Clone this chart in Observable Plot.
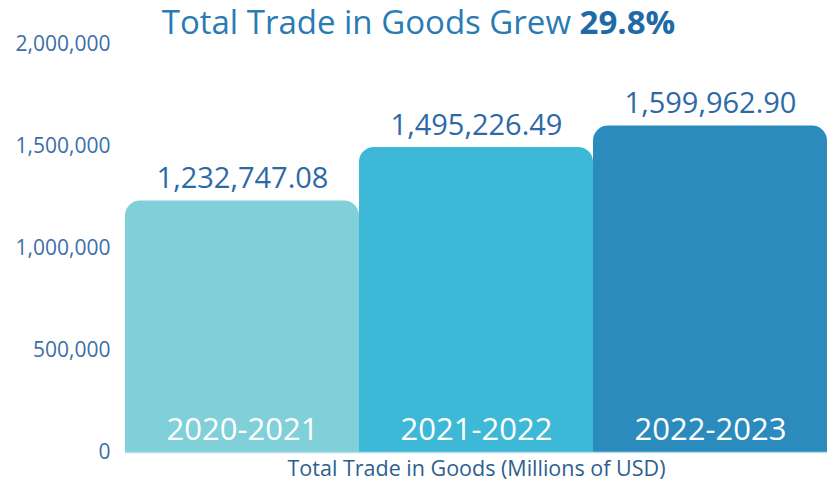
<!DOCTYPE html>
<html><head><meta charset="utf-8">
<script src="https://cdn.jsdelivr.net/npm/d3@7"></script>
<script src="https://cdn.jsdelivr.net/npm/@observablehq/plot@0.6"></script>
<style>
body{margin:0;background:#fff;font-family:"Open Sans",sans-serif;}
#wrap{position:relative;width:829px;height:487px;}
#title{position:absolute;left:0;top:-1px;width:829px;height:46px;line-height:46px;text-align:center;font-size:33px;color:#2a7bb4;padding-left:8px;box-sizing:border-box;z-index:2;white-space:nowrap;}
#title b{color:#1f6aa6;font-weight:700;}
</style></head><body>
<div id="wrap">
<div id="title">Total Trade in Goods Grew <b>29.8%</b></div>
<div id="chart"></div>
</div>
<script>
const periods = ["2020-2021", "2021-2022", "2022-2023"];
const values = [1232747.08, 1495226.49, 1599962.90];
const colors = ["#7fd0d8", "#3db8d6", "#2b8bbd"];
const yTicks = [0, 500000, 1000000, 1500000, 2000000];
const xLabel = "Total Trade in Goods (Millions of USD)";

const data = periods.map((p, i) => ({period: p, value: values[i], color: colors[i]}));

const chart = Plot.plot({
  width: 829,
  height: 487,
  marginTop: 44,
  marginBottom: 35,
  marginLeft: 125,
  marginRight: 2,
  style: {fontFamily: "Open Sans, sans-serif", background: "#fff"},
  x: {domain: periods, padding: 0, axis: null},
  y: {domain: [0, 2000000], ticks: yTicks, tickFormat: d3.format(","), label: null},
  marks: [
    Plot.gridY(yTicks, {stroke: "#b9dcea", strokeOpacity: 1, strokeWidth: 1.5, x1: 125, x2: 829}),
    Plot.barY(data, {x: "period", y: "value", fill: "color", ry1: 15, rx: 15}),
    Plot.barY(data, {x: "period", y1: 0, y2: d => d.value * 0.5, fill: "color"}),
    Plot.ruleY([0], {stroke: "#b9dcea", strokeWidth: 1.5}),
    Plot.axisY({ticks: yTicks, tickFormat: d3.format(","), tickSize: 0, tickPadding: 15, fontSize: 21, fill: "#3c6ea8", label: null, style: {letterSpacing: "2.6px"}}),
    Plot.text(data, {x: "period", y: "value", text: d => d3.format(",.2f")(d.value), dy: -22, fontSize: 29, fill: "#2d6aa5", style: {letterSpacing: "0.8px"}}),
    Plot.text(data, {x: "period", y: () => 0, text: "period", dy: -22, fontSize: 31, fill: "#ffffff"}),
    Plot.text([xLabel], {frameAnchor: "bottom", dy: 23, text: d => d, fontSize: 21.5, fill: "#2d5f8f"})
  ]
});
document.getElementById("chart").appendChild(chart);
</script>
</body></html>
